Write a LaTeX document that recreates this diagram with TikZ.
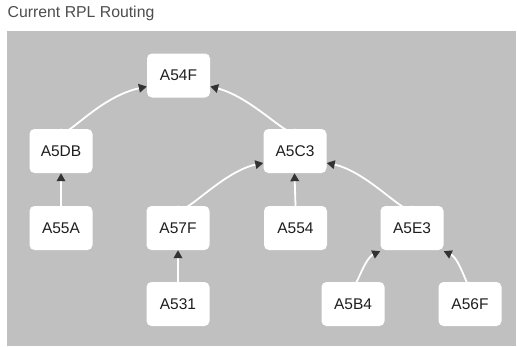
\documentclass[tikz,border=0pt]{standalone}
\usepackage{fontspec}
\setmainfont{Liberation Sans}
\usetikzlibrary{arrows.meta}
\definecolor{bggray}{HTML}{C0C0C0}
\definecolor{titlegray}{HTML}{4D4D4D}
\definecolor{tipgray}{HTML}{333333}
\definecolor{textdark}{HTML}{1E1E1E}
\begin{document}
\begin{tikzpicture}[x=1pt,y=-1pt,
  box/.style={fill=white, rounded corners=5pt, minimum width=63pt, minimum height=44pt,
    inner sep=0pt, text=textdark, font=\fontsize{15.5}{18}\selectfont},
  link/.style={draw=white, line width=1.8pt, -{Triangle[width=8.5pt,length=8pt,fill=tipgray,color=tipgray]}}
]
\useasboundingbox (0,0) rectangle (517,346);
\fill[white] (0,0) rectangle (517,346);
\fill[bggray] (7,31) rectangle (516,346);
\node[anchor=base west, text=titlegray, inner sep=0pt, font=\fontsize{15.8}{18}\selectfont] (title) at (7.5,17.5) {Current RPL Routing};

\node[box] (A54F) at (178.5,75.5) {A54F};
\node[box] (A5DB) at (61,151) {A5DB};
\node[box] (A5C3) at (295,151) {A5C3};
\node[box] (A55A) at (61,228) {A55A};
\node[box] (A57F) at (178,228) {A57F};
\node[box] (A554) at (295.5,228) {A554};
\node[box] (A5E3) at (412,228) {A5E3};
\node[box] (A531) at (178,304) {A531};
\node[box] (A5B4) at (353,304) {A5B4};
\node[box] (A56F) at (470,304) {A56F};

\draw[link] (A5DB.north) .. controls ([yshift=-17pt]A5DB.north) and (95,98) .. ([yshift=-11pt]A54F.west);
\draw[link] (A5C3.north) .. controls ([yshift=-17pt]A5C3.north) and (255,98) .. ([yshift=-11pt]A54F.east);
\draw[link] (A55A.north) -- (A5DB.south);
\draw[link] (A57F.north) .. controls ([yshift=-18pt]A57F.north) and (220,172) .. ([yshift=-12pt]A5C3.west);
\draw[link] (A554.north) -- ([xshift=-0.5pt]A5C3.south);
\draw[link] (A5E3.north) .. controls ([yshift=-18pt]A5E3.north) and (370,172) .. ([yshift=-12pt]A5C3.east);
\draw[link] (A531.north) -- (A57F.south);
\draw[link] (A5B4.north) .. controls ([yshift=-17pt]A5B4.north) and (363,259) .. ([xshift=0pt,yshift=-1pt]A5E3.south west);
\draw[link] (A56F.north) .. controls ([yshift=-17pt]A56F.north) and (461,259) .. ([xshift=0pt,yshift=-1pt]A5E3.south east);
\end{tikzpicture}
\end{document}
